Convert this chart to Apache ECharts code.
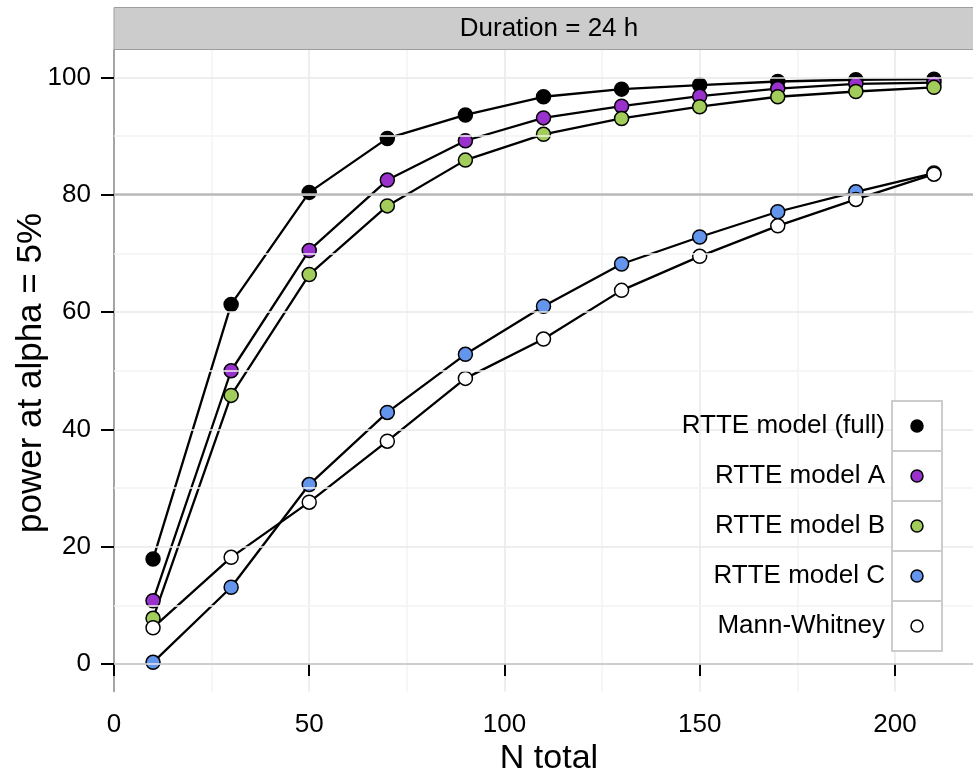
<!DOCTYPE html>
<html>
<head>
<meta charset="utf-8">
<title>Power by sample size</title>
<script src="https://cdn.jsdelivr.net/npm/echarts@6/dist/echarts.min.js"></script>
<style>
  html, body { margin: 0; padding: 0; background: #ffffff; }
  #chart { width: 973px; height: 775px; }
</style>
</head>
<body>
<div id="chart"></div>
<script>
// Sample sizes (N total) and power (%) at alpha = 5% for each method
const nTotal = [10, 30, 50, 70, 90, 110, 130, 150, 170, 190, 210];
const rtteFull = [17.9, 61.3, 80.4, 89.6, 93.6, 96.7, 98.0, 98.7, 99.3, 99.6, 99.7];
const rtteA = [10.8, 50.0, 70.5, 82.5, 89.2, 93.1, 95.1, 96.8, 98.1, 98.9, 99.1];
const rtteB = [7.8, 45.8, 66.4, 78.1, 85.9, 90.3, 93.0, 95.0, 96.7, 97.6, 98.3];
const rtteC = [0.3, 13.1, 30.6, 42.9, 52.8, 61.0, 68.2, 72.8, 77.1, 80.5, 83.7];
const mannWhitney = [6.2, 18.2, 27.6, 38.0, 48.7, 55.4, 63.7, 69.5, 74.7, 79.2, 83.5];

const seriesNames = ['RTTE model (full)', 'RTTE model A', 'RTTE model B', 'RTTE model C', 'Mann-Whitney'];
const seriesValues = [rtteFull, rtteA, rtteB, rtteC, mannWhitney];
const fillColors = ['#000000', '#9932CC', '#A2CD5A', '#6495ED', '#FFFFFF'];

const yTicks = [0, 20, 40, 60, 80, 100];
const yMinorTicks = [10, 30, 50, 70, 90];
const xTicks = [0, 50, 100, 150, 200];
const targetPower = 80;
const panelTitle = 'Duration = 24 h';

const FONT = '"Liberation Sans", Arial, sans-serif';

// 5% expansion of the data range on both axes
const allY = seriesValues.flat();
const yLo = Math.min(...allY), yHi = Math.max(...allY);
const yPad = (yHi - yLo) * 0.05;
const xLo = Math.min(...nTotal), xHi = Math.max(...nTotal);
const xPad = (xHi - xLo) * 0.05;

const chart = echarts.init(document.getElementById('chart'), null, { renderer: 'canvas' });

const pairs = vals => nTotal.map((n, i) => [n, vals[i]]);

const series = [];
// background grid for the y axis
series.push({
  type: 'line', data: [], z: 0, silent: true,
  markLine: {
    silent: true, symbol: 'none', animation: false,
    label: { show: false },
    data: [
      ...yMinorTicks.map(v => ({ yAxis: v, lineStyle: { color: '#F3F3F3', width: 1.5, type: 'solid' } })),
      ...yTicks.map(v => ({ yAxis: v, lineStyle: { color: '#E8E8E8', width: 1.5, type: 'solid' } }))
    ]
  }
});
// reference line at 80% power
series.push({
  type: 'line', data: [], z: 1, silent: true,
  markLine: {
    silent: true, symbol: 'none', animation: false,
    label: { show: false },
    data: [{ yAxis: targetPower, lineStyle: { color: '#BABABA', width: 2.5, type: 'solid' } }]
  }
});
// connecting lines
seriesNames.forEach((name, i) => {
  series.push({
    name: name + ' line', type: 'line', data: pairs(seriesValues[i]),
    showSymbol: false, z: 2, silent: true,
    lineStyle: { color: '#000000', width: 2.3 }
  });
});
// points
seriesNames.forEach((name, i) => {
  series.push({
    name: name, type: 'scatter', data: pairs(seriesValues[i]),
    symbol: 'circle', symbolSize: 14, z: 3,
    itemStyle: { color: fillColors[i], borderColor: '#000000', borderWidth: 1.5, opacity: 1 }
  });
});

// legend drawn as keyed boxes with right-aligned labels
const legendX = 892, legendY = 401, rowH = 50, boxW = 50;
const legendItems = [];
seriesNames.forEach((name, i) => {
  const top = legendY + i * rowH;
  legendItems.push({
    type: 'rect', shape: { x: legendX, y: top, width: boxW, height: rowH },
    style: { fill: '#FFFFFF', stroke: '#CCCCCC', lineWidth: 2 }, z: 10
  });
  legendItems.push({
    type: 'circle', shape: { cx: legendX + boxW / 2, cy: top + rowH / 2, r: 6 },
    style: { fill: fillColors[i], stroke: '#000000', lineWidth: 1.5 }, z: 11
  });
  legendItems.push({
    type: 'text', x: legendX - 7, y: top + rowH / 2,
    style: { text: name, font: '26px ' + FONT, fill: '#000000', align: 'right', verticalAlign: 'middle' }, z: 11
  });
});

const option = {
  animation: false,
  backgroundColor: '#FFFFFF',
  grid: { left: 114, right: -10.7, top: 50, bottom: 83.5, containLabel: false },
  xAxis: {
    type: 'value', min: xLo - xPad, max: xHi + xPad, interval: 50,
    axisLine: { show: true, lineStyle: { color: '#808080', width: 2 } },
    axisTick: { show: true, length: 12, lineStyle: { color: '#000000', width: 2 }, customValues: xTicks },
    axisLabel: { show: true, margin: 20, fontSize: 26, fontFamily: FONT, color: '#000000', customValues: xTicks },
    splitLine: { show: true, lineStyle: { color: '#E8E8E8', width: 1.5 } },
    minorTick: { show: false, splitNumber: 2 },
    minorSplitLine: { show: true, lineStyle: { color: '#F3F3F3', width: 1.5 } }
  },
  yAxis: {
    type: 'value', min: yLo - yPad, max: yHi + yPad,
    axisLine: { show: true, lineStyle: { color: '#8C8C8C', width: 1.5 } },
    axisTick: { show: true, length: 13, lineStyle: { color: '#000000', width: 2 }, customValues: yTicks },
    axisLabel: { show: true, margin: 23, fontSize: 26, fontFamily: FONT, color: '#000000', customValues: yTicks },
    splitLine: { show: false }
  },
  series: series,
  graphic: [
    // facet strip
    {
      type: 'rect', shape: { x: 114, y: 7.5, width: 870, height: 42 },
      style: { fill: '#CCCCCC', stroke: '#9E9E9E', lineWidth: 1 }, z: 5
    },
    {
      type: 'text', x: 549, y: 29,
      style: { text: panelTitle, font: '26px ' + FONT, fill: '#000000', align: 'center', verticalAlign: 'middle' }, z: 6
    },
    // axis titles
    {
      type: 'text', x: 549, y: 759,
      style: { text: 'N total', font: '34px ' + FONT, fill: '#000000', align: 'center', verticalAlign: 'middle' }, z: 6
    },
    {
      type: 'text', x: 31, y: 373, rotation: Math.PI / 2,
      style: { text: 'power at alpha = 5%', font: '35px ' + FONT, fill: '#000000', align: 'center', verticalAlign: 'middle' }, z: 6
    },
    ...legendItems
  ]
};

chart.setOption(option);
</script>
</body>
</html>
